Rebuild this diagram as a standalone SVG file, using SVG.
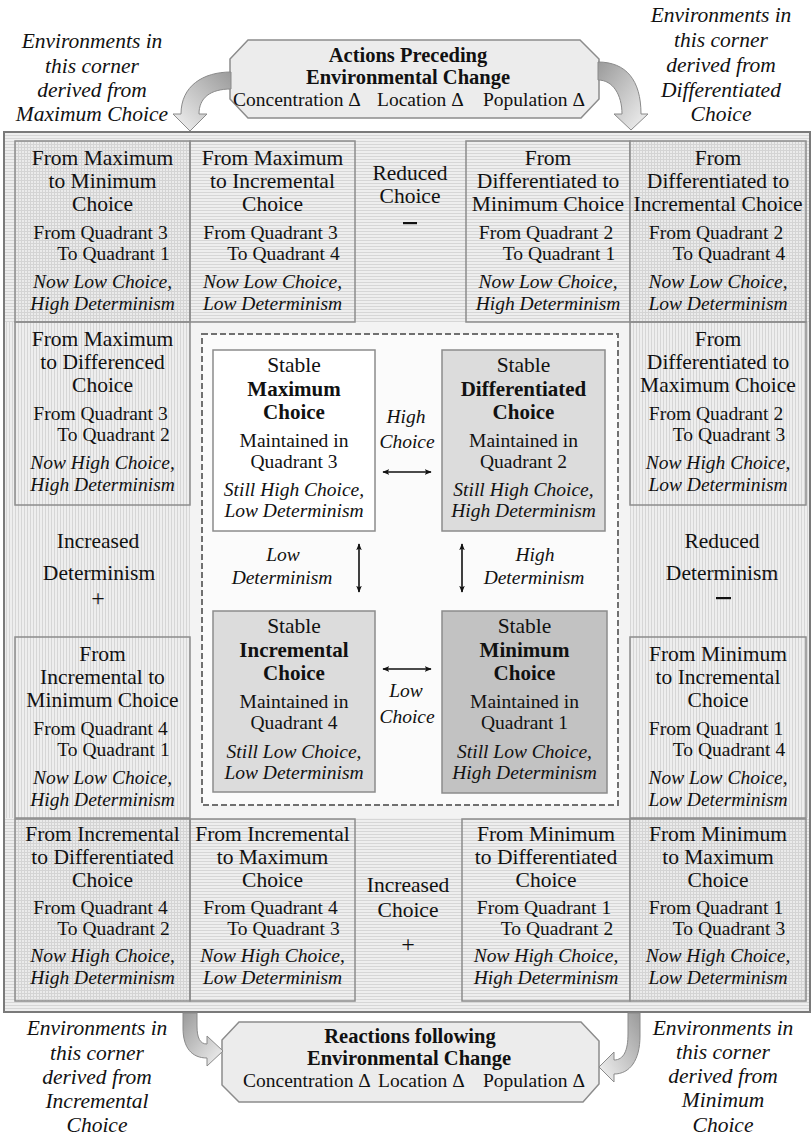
<svg xmlns="http://www.w3.org/2000/svg" width="812" height="1137" viewBox="0 0 812 1137" font-family="Liberation Serif, Times New Roman, serif">
<style>
text{font-family:"Liberation Serif","Times New Roman",Times,"Noto Serif","DejaVu Serif",serif;fill:#111;text-anchor:middle}
.t{font-size:21.5px}
.q{font-size:19.5px}
.i{font-size:19.5px;font-style:italic}
.c{font-size:21.5px;font-style:italic}
.b{font-size:21px;font-weight:bold}
.h{font-size:20.5px;font-weight:bold}
.bx{fill:none;stroke:#8c8c8c;stroke-width:1.5}
.ib{stroke:#8c8c8c;stroke-width:1.5}
.sg{fill:#ececec;stroke:#8c8c8c;stroke-width:1.5}
.dbl{stroke:#111;stroke-width:1.6;fill:none;marker-start:url(#ah);marker-end:url(#ah)}
.blk{stroke:#8a8a8a;stroke-width:1}
</style>
<defs>
<pattern id="hh" width="3" height="3" patternUnits="userSpaceOnUse"><rect width="3" height="3" fill="#eeeeee"/><rect width="3" height="1" fill="#d6d6d6"/></pattern>
<pattern id="vh" width="3" height="3" patternUnits="userSpaceOnUse"><rect width="3" height="3" fill="#eeeeee"/><rect width="1" height="3" fill="#d6d6d6"/></pattern>
<pattern id="gh" width="3" height="3" patternUnits="userSpaceOnUse"><rect width="3" height="3" fill="#ebebeb"/><rect width="3" height="1" fill="#d4d4d4"/><rect width="1" height="3" fill="#d4d4d4"/></pattern>
<marker id="ah" viewBox="0 0 10 8" refX="9" refY="4" markerWidth="7" markerHeight="6" markerUnits="userSpaceOnUse" orient="auto-start-reverse"><path d="M0,0 L10,4 L0,8 L2.5,4 Z" fill="#111"/></marker>
<linearGradient id="gTL" x1="1" y1="0" x2="0" y2="1"><stop offset="0" stop-color="#9a9a9a"/><stop offset="1" stop-color="#f4f4f4"/></linearGradient>
<linearGradient id="gTR" x1="0" y1="0" x2="1" y2="1"><stop offset="0" stop-color="#9a9a9a"/><stop offset="1" stop-color="#f4f4f4"/></linearGradient>
<linearGradient id="gBL" x1="0" y1="0" x2="1" y2="1"><stop offset="0" stop-color="#9a9a9a"/><stop offset="1" stop-color="#f4f4f4"/></linearGradient>
<linearGradient id="gBR" x1="1" y1="0" x2="0" y2="1"><stop offset="0" stop-color="#9a9a9a"/><stop offset="1" stop-color="#f4f4f4"/></linearGradient>
</defs>
<rect width="812" height="1137" fill="#ffffff"/>

<g id="frame">
<rect x="4" y="132" width="806" height="880" fill="#ececec"/>
<rect x="4" y="132" width="806" height="190" fill="url(#hh)"/>
<rect x="4" y="818" width="806" height="194" fill="url(#hh)"/>
<rect x="4" y="322" width="186" height="496" fill="url(#vh)"/>
<rect x="630" y="322" width="180" height="496" fill="url(#vh)"/>
<rect x="190" y="322" width="440" height="496" fill="#f3f3f3"/>
<rect x="4" y="132" width="806" height="880" fill="none" stroke="#7a7a7a" stroke-width="2"/>
</g>

<g id="center-frame">
<rect x="202" y="334" width="416" height="471" fill="#fbfbfb" stroke="#707070" stroke-width="2" stroke-dasharray="6 3"/>
</g>

<g id="box-A">
<rect x="15" y="141" width="175" height="181" fill="url(#gh)"/>
<rect class="bx" x="15" y="141" width="175" height="181"/>
<text class="t" x="102.5" y="165">From Maximum</text>
<text class="t" x="102.5" y="188">to Minimum</text>
<text class="t" x="102.5" y="211">Choice</text>
<text class="q" x="100.5" y="239">From Quadrant 3</text>
<text class="q" x="113.5" y="260">To Quadrant 1</text>
<text class="i" x="102.5" y="288">Now Low Choice,</text>
<text class="i" x="102.5" y="310">High Determinism</text>
</g>
<g id="box-B">
<rect class="bx" x="190" y="141" width="165" height="181"/>
<text class="t" x="272.5" y="165">From Maximum</text>
<text class="t" x="272.5" y="188">to Incremental</text>
<text class="t" x="272.5" y="211">Choice</text>
<text class="q" x="270.5" y="239">From Quadrant 3</text>
<text class="q" x="283.5" y="260">To Quadrant 4</text>
<text class="i" x="272.5" y="288">Now Low Choice,</text>
<text class="i" x="272.5" y="310">Low Determinism</text>
</g>
<g id="label-reduced-choice">
<text class="t" x="410" y="180">Reduced</text>
<text class="t" x="410" y="203">Choice</text>
<rect x="403" y="222" width="14" height="2.2" fill="#111"/>
</g>
<g id="box-C">
<rect class="bx" x="466" y="141" width="164" height="181"/>
<text class="t" x="548" y="165">From</text>
<text class="t" x="548" y="188">Differentiated to</text>
<text class="t" x="548" y="211">Minimum Choice</text>
<text class="q" x="546" y="239">From Quadrant 2</text>
<text class="q" x="559" y="260">To Quadrant 1</text>
<text class="i" x="548" y="288">Now Low Choice,</text>
<text class="i" x="548" y="310">High Determinism</text>
</g>
<g id="box-D">
<rect x="630" y="141" width="176" height="181" fill="url(#gh)"/>
<rect class="bx" x="630" y="141" width="176" height="181"/>
<text class="t" x="718" y="165">From</text>
<text class="t" x="718" y="188">Differentiated to</text>
<text class="t" x="718" y="211">Incremental Choice</text>
<text class="q" x="716" y="239">From Quadrant 2</text>
<text class="q" x="729" y="260">To Quadrant 4</text>
<text class="i" x="718" y="288">Now Low Choice,</text>
<text class="i" x="718" y="310">Low Determinism</text>
</g>

<g id="box-E">
<rect class="bx" x="15" y="322" width="175" height="183"/>
<text class="t" x="102.5" y="346">From Maximum</text>
<text class="t" x="102.5" y="369">to Differenced</text>
<text class="t" x="102.5" y="392">Choice</text>
<text class="q" x="100.5" y="420">From Quadrant 3</text>
<text class="q" x="113.5" y="441">To Quadrant 2</text>
<text class="i" x="102.5" y="469">Now High Choice,</text>
<text class="i" x="102.5" y="491">High Determinism</text>
</g>
<g id="label-increased-determinism">
<text class="t" x="98" y="548">Increased</text>
<text class="t" x="99" y="580">Determinism</text>
<text class="t" x="98" y="606" style="font-size:24px">+</text>
</g>
<g id="box-F">
<rect class="bx" x="15" y="637" width="175" height="181"/>
<text class="t" x="102.5" y="661">From</text>
<text class="t" x="102.5" y="684">Incremental to</text>
<text class="t" x="102.5" y="707">Minimum Choice</text>
<text class="q" x="100.5" y="735">From Quadrant 4</text>
<text class="q" x="113.5" y="756">To Quadrant 1</text>
<text class="i" x="102.5" y="784">Now Low Choice,</text>
<text class="i" x="102.5" y="806">High Determinism</text>
</g>
<g id="box-G">
<rect class="bx" x="630" y="322" width="176" height="183"/>
<text class="t" x="718" y="346">From</text>
<text class="t" x="718" y="369">Differentiated to</text>
<text class="t" x="718" y="392">Maximum Choice</text>
<text class="q" x="716" y="420">From Quadrant 2</text>
<text class="q" x="729" y="441">To Quadrant 3</text>
<text class="i" x="718" y="469">Now High Choice,</text>
<text class="i" x="718" y="491">Low Determinism</text>
</g>
<g id="label-reduced-determinism">
<text class="t" x="722" y="548">Reduced</text>
<text class="t" x="722" y="580">Determinism</text>
<rect x="716" y="597" width="15" height="2.2" fill="#111"/>
</g>
<g id="box-H">
<rect class="bx" x="630" y="637" width="176" height="181"/>
<text class="t" x="718" y="661">From Minimum</text>
<text class="t" x="718" y="684">to Incremental</text>
<text class="t" x="718" y="707">Choice</text>
<text class="q" x="716" y="735">From Quadrant 1</text>
<text class="q" x="729" y="756">To Quadrant 4</text>
<text class="i" x="718" y="784">Now Low Choice,</text>
<text class="i" x="718" y="806">Low Determinism</text>
</g>

<g id="box-I">
<rect x="15" y="819" width="175" height="182" fill="url(#gh)"/>
<rect class="bx" x="15" y="819" width="175" height="182"/>
<text class="t" x="102.5" y="841">From Incremental</text>
<text class="t" x="102.5" y="864">to Differentiated</text>
<text class="t" x="102.5" y="887">Choice</text>
<text class="q" x="100.5" y="914">From Quadrant 4</text>
<text class="q" x="113.5" y="935">To Quadrant 2</text>
<text class="i" x="102.5" y="962">Now High Choice,</text>
<text class="i" x="102.5" y="984">High Determinism</text>
</g>
<g id="box-J">
<rect class="bx" x="190" y="819" width="165" height="182"/>
<text class="t" x="272.5" y="841">From Incremental</text>
<text class="t" x="272.5" y="864">to Maximum</text>
<text class="t" x="272.5" y="887">Choice</text>
<text class="q" x="270.5" y="914">From Quadrant 4</text>
<text class="q" x="283.5" y="935">To Quadrant 3</text>
<text class="i" x="272.5" y="962">Now High Choice,</text>
<text class="i" x="272.5" y="984">Low Determinism</text>
</g>
<g id="label-increased-choice">
<text class="t" x="408" y="892">Increased</text>
<text class="t" x="408" y="917">Choice</text>
<text class="t" x="408" y="952" style="font-size:24px">+</text>
</g>
<g id="box-K">
<rect class="bx" x="462" y="819" width="168" height="182"/>
<text class="t" x="546" y="841">From Minimum</text>
<text class="t" x="546" y="864">to Differentiated</text>
<text class="t" x="546" y="887">Choice</text>
<text class="q" x="544" y="914">From Quadrant 1</text>
<text class="q" x="557" y="935">To Quadrant 2</text>
<text class="i" x="546" y="962">Now High Choice,</text>
<text class="i" x="546" y="984">High Determinism</text>
</g>
<g id="box-L">
<rect x="630" y="819" width="176" height="182" fill="url(#gh)"/>
<rect class="bx" x="630" y="819" width="176" height="182"/>
<text class="t" x="718" y="841">From Minimum</text>
<text class="t" x="718" y="864">to Maximum</text>
<text class="t" x="718" y="887">Choice</text>
<text class="q" x="716" y="914">From Quadrant 1</text>
<text class="q" x="729" y="935">To Quadrant 3</text>
<text class="i" x="718" y="962">Now High Choice,</text>
<text class="i" x="718" y="984">Low Determinism</text>
</g>

<g id="stable-maximum">
<rect class="ib" x="213" y="350" width="162" height="181" fill="#ffffff"/>
<text class="t" x="294" y="372">Stable</text>
<text class="b" x="294" y="396">Maximum</text>
<text class="b" x="294" y="419">Choice</text>
<text class="q" x="294" y="447">Maintained in</text>
<text class="q" x="294" y="468">Quadrant 3</text>
<text class="i" x="294" y="496">Still High Choice,</text>
<text class="i" x="294" y="517">Low Determinism</text>
</g>
<g id="stable-differentiated">
<rect class="ib" x="442" y="350" width="163" height="181" fill="#dcdcdc"/>
<text class="t" x="523.5" y="372">Stable</text>
<text class="b" x="523.5" y="396">Differentiated</text>
<text class="b" x="523.5" y="419">Choice</text>
<text class="q" x="523.5" y="447">Maintained in</text>
<text class="q" x="523.5" y="468">Quadrant 2</text>
<text class="i" x="523.5" y="496">Still High Choice,</text>
<text class="i" x="523.5" y="517">High Determinism</text>
</g>
<g id="stable-incremental">
<rect class="ib" x="213" y="611" width="162" height="181" fill="#dcdcdc"/>
<text class="t" x="294" y="633">Stable</text>
<text class="b" x="294" y="657">Incremental</text>
<text class="b" x="294" y="680">Choice</text>
<text class="q" x="294" y="708">Maintained in</text>
<text class="q" x="294" y="729">Quadrant 4</text>
<text class="i" x="294" y="758">Still Low Choice,</text>
<text class="i" x="294" y="779">Low Determinism</text>
</g>
<g id="stable-minimum">
<rect class="ib" x="442" y="611" width="165" height="182" fill="#c2c2c2"/>
<text class="t" x="524.5" y="633">Stable</text>
<text class="b" x="524.5" y="657">Minimum</text>
<text class="b" x="524.5" y="680">Choice</text>
<text class="q" x="524.5" y="708">Maintained in</text>
<text class="q" x="524.5" y="729">Quadrant 1</text>
<text class="i" x="524.5" y="758">Still Low Choice,</text>
<text class="i" x="524.5" y="779">High Determinism</text>
</g>

<g id="actions-box">
<polygon class="sg" points="248,40 580,40 599,59 599,99 581,118 248,118 230,99 230,59"/>
<text class="h" x="408" y="62">Actions Preceding</text>
<text class="h" x="408" y="84">Environmental Change</text>
<text class="q" y="106" style="text-anchor:start"><tspan x="233">Concentration Δ</tspan><tspan x="377">Location Δ</tspan><tspan x="483">Population Δ</tspan></text>
</g>
<g id="reactions-box">
<polygon class="sg" points="239,1022 581,1022 599,1041 599,1084 583,1102 239,1102 222,1085 222,1040"/>
<text class="h" x="410" y="1043">Reactions following</text>
<text class="h" x="409" y="1065">Environmental Change</text>
<text class="q" y="1087" style="text-anchor:start"><tspan x="243">Concentration Δ</tspan><tspan x="378">Location Δ</tspan><tspan x="483">Population Δ</tspan></text>
</g>

<g id="corner-notes">
<text class="c" x="92" y="48">Environments in</text>
<text class="c" x="92" y="73">this corner</text>
<text class="c" x="92" y="97">derived from</text>
<text class="c" x="92" y="121">Maximum Choice</text>
<text class="c" x="721" y="22">Environments in</text>
<text class="c" x="721" y="47">this corner</text>
<text class="c" x="721" y="72">derived from</text>
<text class="c" x="721" y="97">Differentiated</text>
<text class="c" x="721" y="121">Choice</text>
<text class="c" x="97" y="1035">Environments in</text>
<text class="c" x="97" y="1060">this corner</text>
<text class="c" x="97" y="1084">derived from</text>
<text class="c" x="97" y="1108">Incremental</text>
<text class="c" x="97" y="1132">Choice</text>
<text class="c" x="723" y="1035">Environments in</text>
<text class="c" x="723" y="1059">this corner</text>
<text class="c" x="723" y="1083">derived from</text>
<text class="c" x="723" y="1107">Minimum</text>
<text class="c" x="723" y="1132">Choice</text>
</g>

<g id="connectors">
<path class="blk" fill="url(#gTL)" d="M231,72 C203,72 181,86 181,114 L173,114 L190,131 L207,114 L199,114 C199,98 210,89 231,89 Z"/>
<path class="blk" fill="url(#gTR)" d="M598,62 C626,62 641,80 641,114 L648,114 L631,130 L614,114 L622,114 C622,95 613,80 598,80 Z"/>
<path class="blk" fill="url(#gBL)" d="M183,1013 L183,1028 C183,1048 192,1058 207,1058 L207,1066 L223,1051 L207,1036 L207,1044 C200,1044 197,1038 197,1026 L197,1013 Z"/>
<path class="blk" fill="url(#gBR)" d="M640,1013 L640,1036 C640,1060 630,1074 614,1074 L614,1082 L599,1067 L614,1052 L614,1060 C624,1060 628,1050 628,1034 L628,1013 Z"/>
<line class="dbl" x1="383" y1="472" x2="431" y2="472"/>
<line class="dbl" x1="383" y1="669" x2="431" y2="669"/>
<line class="dbl" x1="359" y1="544" x2="359" y2="592"/>
<line class="dbl" x1="462" y1="544" x2="462" y2="592"/>
<text class="i" x="406" y="423">High</text>
<text class="i" x="407" y="448">Choice</text>
<text class="i" x="406" y="697">Low</text>
<text class="i" x="407" y="723">Choice</text>
<text class="i" x="283" y="561">Low</text>
<text class="i" x="282" y="584">Determinism</text>
<text class="i" x="535" y="561">High</text>
<text class="i" x="534" y="584">Determinism</text>
</g>
</svg>
